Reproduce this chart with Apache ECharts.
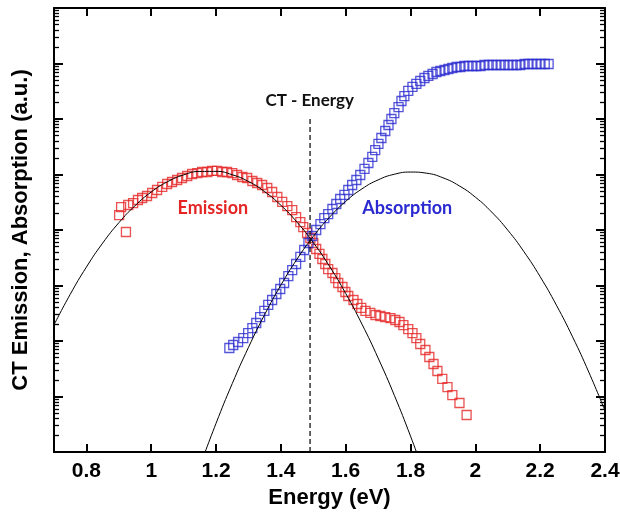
<!DOCTYPE html>
<html><head><meta charset="utf-8">
<script src="https://cdn.jsdelivr.net/npm/echarts@6/dist/echarts.min.js"></script>
<style>html,body{margin:0;padding:0;background:#fff}#c{width:620px;height:517px}</style>
</head><body><div id="c"></div>
<script>
// ---- data ----
const emissionEnergy = [0.901,0.907,0.922,0.929,0.944,0.959,0.972,0.987,1.003,1.018,1.034,1.049,1.064,1.080,1.095,1.111,1.126,1.142,1.157,1.173,1.188,1.203,1.219,1.234,1.250,1.265,1.281,1.296,1.312,1.327,1.342,1.358,1.373,1.389,1.404,1.420,1.435,1.447,1.460,1.469,1.481,1.491,1.500,1.509,1.519,1.528,1.537,1.546,1.559,1.568,1.577,1.590,1.599,1.608,1.624,1.636,1.648,1.661,1.676,1.692,1.707,1.722,1.738,1.753,1.766,1.778,1.793,1.806,1.818,1.830,1.846,1.858,1.871,1.883,1.898,1.914,1.929,1.951,1.973];
const emissionValue = [18600,25900,9200,28200,30600,34700,37700,41000,46400,52600,59600,67400,73300,79600,86500,94000,102000,106000,111000,111000,116000,116000,111000,111000,106000,98000,90200,86500,76400,70300,64700,57100,48400,39300,32000,27000,22900,17100,13900,11300,8830,7180,5830,4550,3700,3000,2440,1980,1680,1360,1110,940,764,647,548,464,394,348,320,294,282,270,259,239,220,194,164,139,113,88.3,68.9,51.5,38.5,28.8,20.7,14.8,10.6,7.64,4.64];

const absorptionEnergy = [1.241,1.253,1.268,1.284,1.299,1.312,1.324,1.336,1.349,1.361,1.373,1.386,1.398,1.410,1.423,1.435,1.447,1.460,1.472,1.485,1.497,1.509,1.522,1.534,1.546,1.559,1.571,1.583,1.596,1.608,1.620,1.633,1.645,1.658,1.670,1.682,1.691,1.701,1.710,1.722,1.732,1.741,1.750,1.763,1.772,1.781,1.793,1.806,1.818,1.830,1.843,1.855,1.868,1.880,1.892,1.905,1.917,1.929,1.942,1.954,1.966,1.979,1.991,2.003,2.016,2.028,2.041,2.053,2.065,2.078,2.090,2.102,2.115,2.127,2.139,2.152,2.164,2.176,2.189,2.201,2.214,2.226];
const absorptionValue = [74.8,84.7,95.9,113,139,171,211,270,348,446,548,703,865,1110,1480,1900,2440,3270,4360,5830,7800,10000,12800,16400,19400,23900,29400,36200,42800,52600,64700,79600,98000,126000,161000,207000,276000,355000,455000,608000,780000,1000000,1280000,1640000,2110000,2590000,3200000,3780000,4280000,4840000,5480000,5960000,6470000,7030000,7330000,7640000,7960000,8300000,8650000,8650000,9020000,9020000,9020000,9020000,9020000,9400000,9400000,9400000,9400000,9400000,9400000,9400000,9400000,9400000,9400000,9800000,9800000,9800000,9800000,9800000,9800000,9800000];

const emissionFitEnergy = [0.70,0.75,0.80,0.85,0.90,0.95,1.00,1.05,1.10,1.15,1.20,1.25,1.30,1.35,1.40,1.45,1.50,1.55,1.60,1.65,1.70,1.75,1.80,1.85];
const emissionFitValue = [195,693,2150,5790,13500,27400,48400,74000,98400,113500,113800,98900,74800,49000,27900,13800,5940,2220,718,202,49.3,10.5,1.93,0.308];
const absorptionFitEnergy = [1.15,1.20,1.25,1.30,1.35,1.40,1.45,1.50,1.55,1.60,1.65,1.70,1.75,1.80,1.85,1.90,1.95,2.00,2.05,2.10,2.15,2.20,2.25,2.30,2.35,2.40];
const absorptionFitValue = [0.552,3.29,17.1,76.7,300,1016,3000,7656,17000,32810,55000,79980,101000,110700,105500,87300,62600,39080,21150,9950,4060,1439,443,118.6,27.5,5.55];

const ctEnergy = 1.49;
const ctLineValue = [1, 1130000];
const xTickValues = [0.8,1,1.2,1.4,1.6,1.8,2,2.2,2.4];
const yDecadeTicks = [1,2,3,4,5,6,7];

const labels = [
  {text:'CT - Energy', x:1.489, y:2110000, color:'#111111', size:17},
  {text:'Emission', x:1.19, y:24400, color:'#e52424', size:18},
  {text:'Absorption', x:1.79, y:24400, color:'#2a2ad0', size:18}
];

// ---- build ----
const zip = (a,b) => a.map((v,i)=>[v,b[i]]);
const RED = '#e52424', BLUE = '#2a2ad0';
const AX = "'Liberation Sans', Arial, sans-serif";
const minorTicks = [];
for (let n=0;n<8;n++) for (let k=2;k<=9;k++) minorTicks.push(n+Math.log10(k));

const chart = echarts.init(document.getElementById('c'), null, {renderer:'canvas'});
const xBase = {type:'value', min:0.7, max:2.4, splitLine:{show:false},
  axisLine:{show:true, onZero:false, lineStyle:{color:'#000', width:2}},
  axisTick:{show:true, inside:true, length:8, lineStyle:{color:'#000', width:2}, customValues:xTickValues}};
const yDeco = (pos, major) => ({type:'value', min:0, max:8, position:pos, splitLine:{show:false},
  axisLine:{show:major, onZero:false, lineStyle:{color:'#000', width:2}},
  axisLabel:{show:false},
  axisTick:{show:true, inside:true, length: major?9:5, lineStyle:{color:'#000', width: major?2:1.3},
    customValues: major ? yDecadeTicks : minorTicks}});

chart.setOption({
  animation:false,
  backgroundColor:'#fff',
  grid:{left:54, right:15, top:8, bottom:65, containLabel:false, outerBoundsMode:'none'},
  xAxis:[
    Object.assign({}, xBase, {position:'bottom',
      name:'Energy (eV)', nameLocation:'middle', nameGap:31,
      nameTextStyle:{fontFamily:AX, fontWeight:'bold', fontSize:22, color:'#000'},
      axisLabel:{show:true, customValues:xTickValues, margin:9, fontFamily:AX, fontWeight:'bold', fontSize:21, color:'#000'}}),
    Object.assign({}, xBase, {position:'top', axisLabel:{show:false}})
  ],
  yAxis:[
    {type:'log', logBase:10, min:1, max:1e8, show:false},
    Object.assign(yDeco('left', true), {name:'CT Emission, Absorption (a.u.)', nameLocation:'middle', nameGap:22,
      nameTextStyle:{fontFamily:AX, fontWeight:'bold', fontSize:22, color:'#000'}}),
    yDeco('left', false),
    yDeco('right', true),
    yDeco('right', false)
  ],
  series:[
    {type:'scatter', name:'Emission', xAxisIndex:0, yAxisIndex:0, data:zip(emissionEnergy, emissionValue),
      symbol:'rect', symbolSize:9, itemStyle:{color:'rgba(255,255,255,0)', borderColor:RED, borderWidth:1.3}},
    {type:'scatter', name:'Absorption', xAxisIndex:0, yAxisIndex:0, data:zip(absorptionEnergy, absorptionValue),
      symbol:'rect', symbolSize:9, itemStyle:{color:'rgba(255,255,255,0)', borderColor:BLUE, borderWidth:1.3}},
    {type:'line', name:'Emission fit', xAxisIndex:0, yAxisIndex:0, data:zip(emissionFitEnergy, emissionFitValue),
      smooth:true, showSymbol:false, symbol:'none', clip:true, lineStyle:{color:'#000', width:1}},
    {type:'line', name:'Absorption fit', xAxisIndex:0, yAxisIndex:0, data:zip(absorptionFitEnergy, absorptionFitValue),
      smooth:true, showSymbol:false, symbol:'none', clip:true, lineStyle:{color:'#000', width:1}},
    {type:'line', name:'CT - Energy', xAxisIndex:0, yAxisIndex:0, data:ctLineValue.map(v=>[ctEnergy, v]),
      showSymbol:false, symbol:'none', lineStyle:{color:'#000', width:1.2, type:[5,3]}}
  ]
});

const graphics = labels.map(l => {
  const p = chart.convertToPixel({xAxisIndex:0, yAxisIndex:0}, [l.x, l.y]);
  return {type:'text', x:p[0], y:p[1], z:100,
    style:{text:l.text, fill:l.color, font:'bold '+l.size+'px Lato, "Open Sans", sans-serif', align:'center', verticalAlign:'middle'}};
});
chart.setOption({graphic:graphics});
</script>
</body></html>
